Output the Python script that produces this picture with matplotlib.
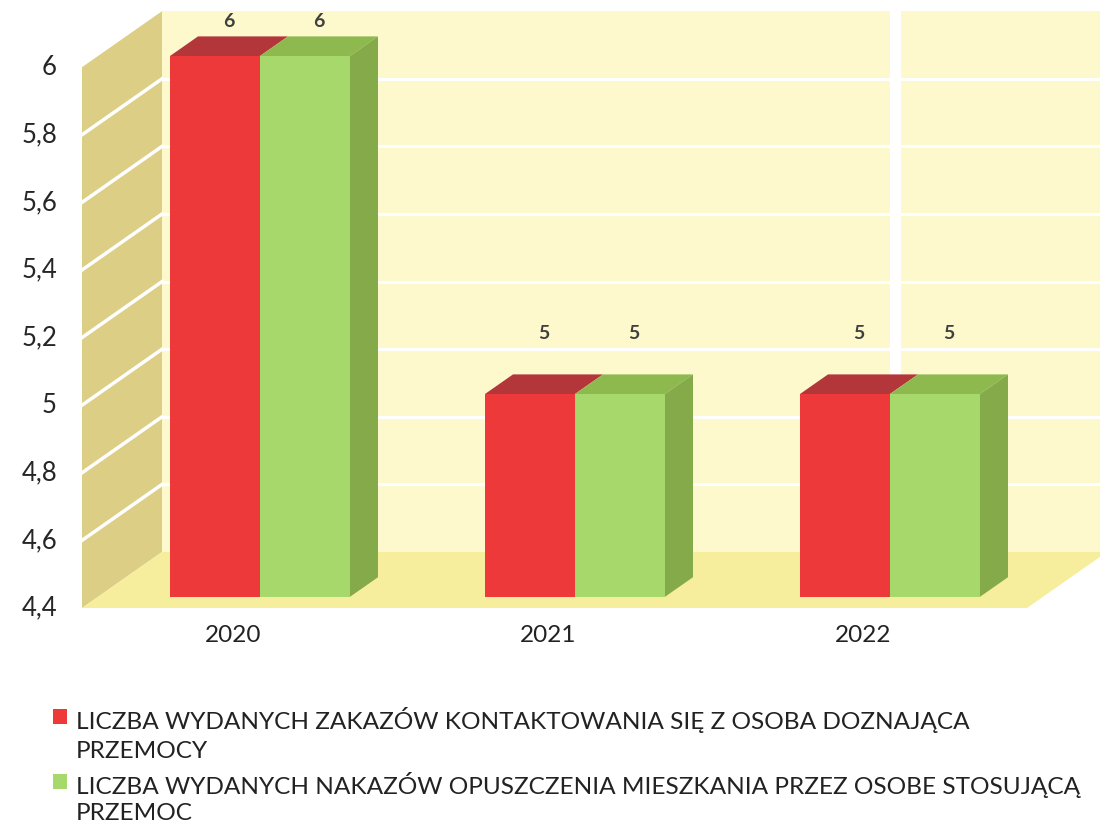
import numpy as np
import matplotlib.pyplot as plt
from matplotlib.patches import Polygon, Rectangle

plt.rcParams['font.family'] = ['Lato', 'DejaVu Sans']

years = ['2020', '2021', '2022']
zakazy = [6, 5, 5]     # red series
nakazy = [6, 5, 5]     # green series
yticks = [4.4, 4.6, 4.8, 5.0, 5.2, 5.4, 5.6, 5.8, 6.0]
ytick_labels = ['4,4', '4,6', '4,8', '5', '5,2', '5,4', '5,6', '5,8', '6']
legend_labels = [['LICZBA WYDANYCH ZAKAZÓW KONTAKTOWANIA SIĘ Z OSOBA DOZNAJĄCA', 'PRZEMOCY'],
                 ['LICZBA WYDANYCH NAKAZÓW OPUSZCZENIA MIESZKANIA PRZEZ OSOBE STOSUJĄCĄ', 'PRZEMOC']]

red = '#ee393b'
red_top = '#b3363a'
green = '#a7d86b'
green_top = '#8db94f'
green_side = '#85aa49'
wall_side = '#ddce86'
wall_back = '#fdf9cd'
floor_c = '#f6ee9c'

W, H = 1100, 824
fig = plt.figure(figsize=(W / 100, H / 100), dpi=100)
ax = fig.add_axes([0, 0, 1, 1])
ax.axis('off')

# 315 px per category, 338 px per unit, 4.4 sits at 608 px from top
xscale, yscale = 315.0, 338.0
x0px, y0px = 233.0, 608.0
ymin, ymax = yticks[0], yticks[-1]
ax.set_xlim(-x0px / xscale, (W - x0px) / xscale)
ax.set_ylim(ymin - (H - y0px) / yscale, ymin + y0px / yscale)

# oblique depth of the box
DX = 80 / xscale
DY = 56 / yscale
xf = (82 - x0px) / xscale          # front edge of the left wall
xb = xf + DX
xr = (1027 - x0px) / xscale        # front right corner of the floor
xend = (W - x0px) / xscale

ax.add_patch(Polygon([(xb, ymin + DY), (xend, ymin + DY), (xend, ymax + DY), (xb, ymax + DY)],
                     closed=True, fc=wall_back, ec='none', zorder=1))
ax.add_patch(Polygon([(xf, ymin), (xf, ymax), (xb, ymax + DY), (xb, ymin + DY)],
                     closed=True, fc=wall_side, ec='none', zorder=2))
ax.add_patch(Polygon([(xf, ymin), (xr, ymin), (xr + DX, ymin + DY), (xb, ymin + DY)],
                     closed=True, fc=floor_c, ec='none', zorder=2))

for v in yticks[1:-1]:
    ax.plot([xb, xend], [v + DY, v + DY], color='white', lw=2.2, zorder=1.5)
    ax.plot([xf, xb], [v, v + DY], color='white', lw=2.5, zorder=2.5)
# light split in the back wall
xs = (895 - x0px) / xscale
ax.plot([xs, xs], [ymin + DY, ymax + DY + 0.02], color='white', lw=8, zorder=1.6)

for v, lab in zip(yticks, ytick_labels):
    ax.text((57 - x0px) / xscale, v, lab, ha='right', va='center',
            fontsize=18.5, color='#262626')

# bars
w = 90 / xscale
shift = 27 / xscale
zb, zd = 0.2, 0.35
bdx, bdy = zd * DX, zd * DY
bottom = ymin + zb * DY
x = np.arange(len(years))

ax.bar(x + shift - w / 2, np.array(zakazy) - ymin, w, bottom=bottom, color=red, zorder=4)
ax.bar(x + shift + w / 2, np.array(nakazy) - ymin, w, bottom=bottom, color=green, zorder=5)

for i in range(len(years)):
    xl = x[i] + shift - w
    xm = x[i] + shift
    xrr = x[i] + shift + w
    tr = zakazy[i] + zb * DY
    tg = nakazy[i] + zb * DY
    ax.add_patch(Polygon([(xl, tr), (xm, tr), (xm + bdx, tr + bdy), (xl + bdx, tr + bdy)],
                         closed=True, fc=red_top, ec='none', zorder=4))
    ax.add_patch(Polygon([(xm, tg), (xrr, tg), (xrr + bdx, tg + bdy), (xm + bdx, tg + bdy)],
                         closed=True, fc=green_top, ec='none', zorder=5))
    ax.add_patch(Polygon([(xrr, bottom), (xrr, tg), (xrr + bdx, tg + bdy), (xrr + bdx, bottom + bdy)],
                         closed=True, fc=green_side, ec='none', zorder=5))
    # value labels, kept inside the top of the wall
    for xc, top, val in [(xl + w / 2, tr, zakazy[i]), (xm + w / 2, tg, nakazy[i])]:
        ly = min(top + bdy + 0.12, ymax + DY - 0.03)
        ax.text(xc + bdx / 2, ly, str(val), ha='center', va='center',
                fontsize=14, fontweight='bold', color='#404040', zorder=6)
    ax.text(x[i], ymin - 0.08, years[i], ha='center', va='center',
            fontsize=17.5, color='#222222')

# legend drawn by hand, two wrapped entries
line_y = [[718, 749], [783, 811]]
for j, col in enumerate([red, green]):
    fig.patches.append(Rectangle((53 / W, 1 - (line_y[j][0] + 6) / H), 14 / W, 15 / H,
                                 transform=fig.transFigure, fc=col, ec='none'))
    for k, txt in enumerate(legend_labels[j]):
        fig.text(76 / W, 1 - line_y[j][k] / H, txt, ha='left', va='center_baseline',
                 fontsize=17.6, color='#222222')

fig.savefig('out.png', dpi=100)
